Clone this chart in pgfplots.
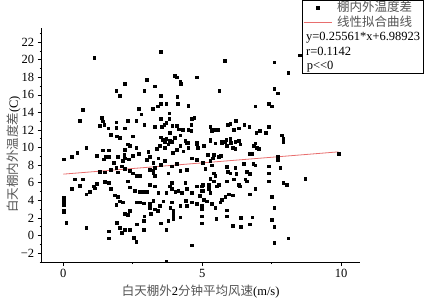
\documentclass[border=0pt]{standalone}
\usepackage{fontspec}
\setmainfont{Liberation Serif}
\newfontfamily\cjk{Noto Sans CJK SC}
\usepackage{pgfplots}
\pgfplotsset{compat=1.18}
\usepackage{pgfplotstable}
\definecolor{fitred}{RGB}{232,110,110}
\definecolor{cjkgray}{RGB}{85,85,85}
\newcommand\cj[1]{{\color{cjkgray}\cjk #1}}
\pgfplotsset{
  marklegend/.style={legend image code/.code={\draw[mark repeat=2,mark phase=2,##1] plot coordinates {(0pt,0pt) (14pt,0pt) (28pt,0pt)}; \path (31pt,0pt);}},
  linelegend/.style={legend image code/.code={\draw[##1] (0pt,0pt) -- (28pt,0pt); \path (31pt,0pt);}},
}

\pgfplotstableread{
x y
1.11 20.2
3.51 20.9
0.70 14.3
0.60 13.1
1.90 16.5
2.02 15.9
2.21 17.3
3.01 17.7
2.91 16.5
3.30 17.0
4.00 18.2
4.09 18.0
4.21 17.5
4.22 17.3
4.81 18.0
3.51 15.9
4.10 15.8
2.70 14.4
2.80 13.8
3.21 14.4
3.39 14.7
3.51 15.0
3.70 15.0
4.11 15.0
4.50 14.8
3.81 13.9
1.39 13.4
1.42 13.0
1.30 12.5
1.47 12.6
1.61 12.2
1.90 12.9
1.90 12.3
2.21 12.2
2.31 13.1
2.62 13.1
1.71 11.5
1.92 11.3
2.02 11.1
2.50 11.3
2.91 12.6
3.30 12.4
3.51 13.3
3.55 12.4
3.63 12.6
3.70 12.8
3.81 13.3
3.92 12.5
4.09 12.5
4.16 12.1
4.30 12.0
4.63 13.3
4.71 13.4
4.60 12.6
4.50 12.0
4.60 11.9
3.51 11.2
3.58 10.9
3.70 11.0
3.82 10.8
4.00 11.1
4.21 11.4
4.39 10.8
4.50 10.6
4.81 10.6
3.82 11.7
5.80 19.9
7.59 19.7
8.50 20.5
8.10 18.5
5.61 16.5
7.59 16.7
7.71 16.2
6.91 14.7
7.40 15.0
7.50 14.7
5.29 12.4
5.41 12.0
5.55 12.0
5.35 11.9
5.91 12.6
6.01 12.7
6.21 13.1
6.31 12.2
6.13 12.0
6.51 12.6
6.69 12.4
6.94 11.7
7.06 11.9
7.39 12.4
7.29 11.7
7.87 11.4
7.91 11.0
5.29 10.9
5.71 10.7
5.86 10.9
6.01 11.0
6.31 10.8
6.91 10.5
0.00 8.7
0.30 9.0
0.50 9.4
0.82 10.0
0.00 4.3
0.00 4.0
0.00 3.8
0.00 3.5
0.00 2.9
0.00 2.7
0.10 1.5
0.30 5.3
0.42 6.4
0.70 6.4
0.60 5.7
0.82 4.7
0.94 5.0
1.08 5.6
1.14 5.4
1.20 5.9
0.82 0.9
1.20 9.1
1.42 9.7
1.62 9.7
1.53 9.0
1.62 9.0
1.44 8.7
1.30 7.3
1.50 7.2
1.71 7.5
1.90 7.7
1.95 7.2
1.80 8.3
1.95 9.0
2.14 8.5
1.50 6.1
1.62 6.0
1.71 5.3
1.86 4.6
1.95 4.4
2.02 3.9
1.90 3.5
2.14 3.8
2.22 2.5
2.31 2.4
2.40 2.8
1.62 0.5
1.62 -0.3
1.92 1.5
2.02 0.9
2.10 0.3
2.22 0.7
2.40 0.7
2.52 -0.2
2.62 -0.7
2.65 1.3
2.31 10.4
2.40 10.2
2.22 9.8
2.19 9.2
2.22 8.8
2.34 8.7
2.50 9.1
2.62 10.0
2.70 9.3
2.10 7.9
2.22 7.6
2.38 7.4
2.50 7.1
2.65 6.8
2.76 6.8
2.31 6.2
2.40 5.5
2.58 5.1
2.76 5.0
2.88 5.0
3.01 5.0
2.65 3.8
2.76 3.8
2.88 3.7
2.91 2.2
2.88 1.7
2.88 0.7
3.06 9.5
3.12 9.0
3.01 8.6
3.24 8.3
3.30 7.7
3.12 7.5
3.24 7.4
3.42 8.8
3.37 9.9
3.48 10.2
3.66 10.7
3.24 7.1
3.30 6.8
3.12 5.8
3.30 5.6
3.42 4.9
3.24 4.0
3.12 3.6
3.30 3.0
3.10 3.2
3.15 2.5
3.39 2.8
3.48 3.4
3.60 3.9
3.70 4.9
3.82 5.6
3.51 1.4
3.70 0.7
3.70 -2.9
3.66 10.0
3.78 10.4
3.91 10.7
3.94 9.4
4.09 9.8
4.21 10.2
4.32 9.6
4.45 10.5
4.50 10.0
4.81 10.4
4.83 10.0
5.05 10.2
3.51 8.1
3.66 8.5
3.91 7.9
4.09 8.2
4.21 7.4
4.45 7.5
4.63 8.8
4.81 8.6
5.02 8.3
3.78 7.1
3.91 6.0
3.91 5.3
4.03 5.0
4.14 5.1
4.27 4.9
4.39 6.0
4.45 5.3
4.63 4.9
4.81 5.6
5.02 5.8
5.02 5.1
4.90 4.5
5.05 4.1
3.91 3.8
3.85 3.2
3.96 2.8
4.21 3.4
4.45 3.4
4.63 3.8
4.81 3.6
4.21 2.1
3.96 2.4
3.78 1.7
3.96 1.9
4.41 4.0
4.63 -1.1
5.29 10.8
5.47 10.5
5.71 10.6
5.83 10.7
6.03 10.6
6.19 10.7
6.37 10.4
5.89 10.2
6.10 10.0
6.19 9.9
6.85 10.2
6.91 10.5
6.97 10.0
7.03 9.9
7.91 10.7
5.19 9.2
5.41 9.2
5.38 8.8
5.67 9.1
5.59 9.0
6.70 9.3
6.79 9.3
7.71 9.0
7.71 8.6
7.81 7.7
7.39 7.9
7.40 7.1
7.40 6.2
7.91 6.0
8.03 5.8
8.71 6.5
9.91 9.3
5.29 8.5
5.35 8.0
5.11 7.6
5.41 7.1
5.47 6.8
5.29 6.5
5.41 6.2
5.59 5.8
5.23 5.8
5.89 7.8
5.91 7.3
6.01 7.1
6.19 7.7
6.22 7.0
6.13 6.4
5.89 6.2
6.49 8.2
6.83 8.2
6.91 8.0
6.61 7.3
6.70 7.0
6.55 6.4
6.61 6.2
6.31 5.8
6.34 5.6
4.99 5.6
4.99 5.1
5.23 5.3
5.29 4.9
5.53 5.6
5.17 3.9
5.71 4.1
5.83 4.4
5.95 4.7
6.10 4.6
5.65 3.8
6.91 5.3
6.70 4.7
7.51 4.4
7.59 3.2
4.99 3.4
4.99 3.0
4.99 2.2
4.99 1.4
5.35 3.6
5.47 3.2
5.50 1.9
5.89 2.9
5.89 2.2
6.10 1.1
6.39 2.0
6.39 1.0
6.70 1.3
6.80 2.1
7.51 1.8
7.59 1.0
7.59 -0.8
8.10 -0.3
}\pts

\begin{document}
\begin{tikzpicture}
\path[use as bounding box] (-41.7pt,-38pt) rectangle (383.3pt,262pt);
\begin{axis}[
  at={(0pt,0pt)}, anchor=south west,
  scale only axis, width=318pt, height=234pt,
  xmin=-0.78, xmax=10.67, ymin=-3, ymax=23.6,
  axis x line*=bottom, axis y line*=left,
  axis line style={black, line width=0.8pt, -},
  xtick={0,5,10}, minor xtick={2.5,7.5},
  ytick={-2,0,2,4,6,8,10,12,14,16,18,20,22},
  yticklabels={−2,0,2,4,6,8,10,12,14,16,18,20,22},
  minor ytick={-3,-1,1,3,5,7,9,11,13,15,17,19,21,23},
  tick align=outside, major tick length=4pt, minor tick length=2pt,
  tick style={black, line width=0.7pt},
  font=\fontsize{12.5}{15}\selectfont,
  /pgf/number format/assume math mode=true,
  xlabel={\cj{白天棚外}2\cj{分钟平均风速}(m/s)},
  ylabel={\cj{白天棚内外温度差}(C)},
  x label style={at={(axis description cs:0.5,-0.128)}, anchor=center},
  y label style={at={(axis description cs:-0.087,0.46)}, anchor=center},
  legend style={at={(axis description cs:0.8186,1.1197)}, anchor=north west,
    draw=black, line width=0.6pt, inner xsep=1pt, inner ysep=0.5pt,
    row sep=0pt, cells={anchor=west},
    nodes={inner xsep=2pt, inner ysep=0.75pt, text height=10pt, text depth=3pt}},
]
\addplot[only marks, mark=square*, mark size=1.35pt, black, marklegend]
  table[x=x, y=y] {\pts};
\addlegendentry{\cj{棚内外温度差}}
\addplot[fitred, line width=0.8pt, no marks, linelegend]
  coordinates {(0,6.98923) (9.9,9.5198)};
\addlegendentry{\cj{线性拟合曲线}}
\addlegendimage{empty legend}
\addlegendentry{\hspace{-31pt}y=0.25561*x+6.98923}
\addlegendimage{empty legend}
\addlegendentry{\hspace{-31pt}r=0.1142}
\addlegendimage{empty legend}
\addlegendentry{\hspace{-31pt}p{<}{<}0}
\end{axis}
\end{tikzpicture}
\end{document}
